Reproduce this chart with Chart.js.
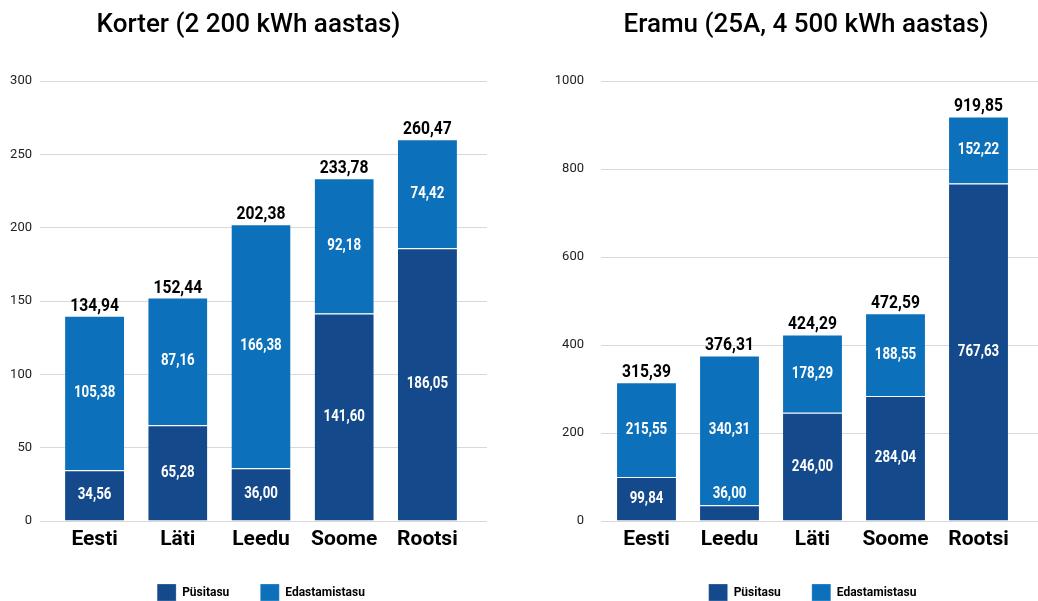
<!DOCTYPE html>
<html>
<head>
<meta charset="utf-8">
<script src="https://cdn.jsdelivr.net/npm/chart.js@4/dist/chart.umd.min.js"></script>
<style>
html, body { margin: 0; padding: 0; background: #fff; overflow: hidden; }
#wrap { position: relative; width: 1038px; height: 601px; overflow: hidden; }
.kast { position: absolute; top: 0; height: 620px; }
#k1 { left: 0; width: 495px; }
#k2 { left: 519px; width: 539px; }
</style>
</head>
<body>
<div id="wrap">
  <div class="kast" id="k1"><canvas id="korter"></canvas></div>
  <div class="kast" id="k2"><canvas id="eramu"></canvas></div>
</div>
<script>
// Korter (2 200 kWh aastas)
const korterRiigid = ['Eesti', 'Läti', 'Leedu', 'Soome', 'Rootsi'];
const korterPusitasu = [34.56, 65.28, 36.00, 141.60, 186.05];
const korterEdastamine = [105.38, 87.16, 166.38, 92.18, 74.42];
const korterKokku = [134.94, 152.44, 202.38, 233.78, 260.47];

// Eramu (25A, 4 500 kWh aastas)
const eramuRiigid = ['Eesti', 'Leedu', 'Läti', 'Soome', 'Rootsi'];
const eramuPusitasu = [99.84, 36.00, 246.00, 284.04, 767.63];
const eramuEdastamine = [215.55, 340.31, 178.29, 188.55, 152.22];
const eramuKokku = [315.39, 376.31, 424.29, 472.59, 919.85];

const TUME = '#144a8b';
const HELE = '#0c71ba';

const fmt = v => v.toFixed(2).replace('.', ',');

// kitsendatud kiri (Roboto Condensed asemel)
function kitsasTekst(ctx, tekst, x, y, skaala) {
  ctx.save();
  ctx.translate(x, y);
  ctx.scale(skaala, 1);
  ctx.fillText(tekst, 0, 0);
  ctx.restore();
}

// väärtused tulpade sees ja summad tulpade kohal
const sildid = {
  id: 'sildid',
  afterDatasetsDraw(chart, args, opts) {
    const ctx = chart.ctx;
    ctx.save();
    ctx.textAlign = 'center';
    ctx.textBaseline = 'middle';
    ctx.font = 'bold 16px Roboto';
    ctx.fillStyle = '#fff';
    chart.data.datasets.forEach((ds, i) => {
      chart.getDatasetMeta(i).data.forEach((bar, j) => {
        let y = (bar.y + bar.base) / 2;
        if (bar.base - bar.y < 22) y = bar.y - 11;
        kitsasTekst(ctx, fmt(ds.data[j]), bar.x, y, 0.83);
      });
    });
    const viimane = chart.getDatasetMeta(chart.data.datasets.length - 1);
    ctx.fillStyle = '#000';
    ctx.font = 'bold 18px Roboto';
    ctx.textBaseline = 'alphabetic';
    viimane.data.forEach((bar, j) => {
      kitsasTekst(ctx, fmt(opts.kokku[j]), bar.x, bar.y - 5, 0.87);
    });
    ctx.restore();
  }
};

function teeGraafik(id, pealkiri, riigid, pusi, edast, kokku, seaded) {
  return new Chart(document.getElementById(id), {
    type: 'bar',
    data: {
      labels: riigid,
      datasets: [
        { label: 'Püsitasu', data: pusi, backgroundColor: TUME, borderColor: '#fff', borderWidth: { top: 1 } },
        { label: 'Edastamistasu', data: edast, backgroundColor: HELE, borderColor: '#fff', borderWidth: { top: 1 } }
      ]
    },
    options: {
      responsive: true,
      maintainAspectRatio: false,
      animation: false,
      categoryPercentage: 1,
      barPercentage: 0.71,
      layout: { padding: { left: seaded.vasak, right: seaded.parem, top: 0, bottom: 9 } },
      scales: {
        x: {
          stacked: true,
          grid: { display: false, drawTicks: false },
          border: { display: false },
          ticks: { color: '#000', padding: 6, font: { family: 'Roboto', size: 21, weight: 'bold' } },
          afterFit: s => { s.height = 32; }
        },
        y: {
          stacked: true,
          min: 0,
          max: seaded.max,
          ticks: {
            stepSize: seaded.samm,
            color: '#222',
            padding: seaded.tPadding,
            font: { family: 'Roboto', size: 13 },
            callback: v => String(v)
          },
          grid: { color: '#d9d9d9', tickLength: seaded.tVasak },
          border: { display: false },
          afterFit: s => { s.width = seaded.laius; }
        },
        y2: {
          position: 'right',
          min: 0,
          max: seaded.max,
          ticks: { stepSize: seaded.samm, display: false },
          grid: { color: '#d9d9d9', drawOnChartArea: false, tickLength: seaded.tParem },
          border: { display: false },
          afterFit: s => { s.width = seaded.tParem; }
        }
      },
      plugins: {
        title: {
          display: true,
          text: pealkiri,
          color: '#000',
          font: { family: 'Roboto', size: 26, weight: '500' },
          padding: { top: 10, bottom: 40 }
        },
        legend: {
          position: 'bottom',
          fullSize: false,
          labels: {
            boxWidth: 19,
            boxHeight: 17,
            padding: 31,
            color: '#000',
            font: { family: 'Roboto', size: 12, weight: 'bold' }
          }
        },
        tooltip: { enabled: false },
        sildid: { kokku: kokku }
      }
    },
    plugins: [sildid]
  });
}

teeGraafik('korter', 'Korter (2 200 kWh aastas)', korterRiigid, korterPusitasu, korterEdastamine, korterKokku,
  { max: 300, samm: 50, vasak: 10, parem: 8, laius: 43, tVasak: 13, tPadding: 8, tParem: 18 });

teeGraafik('eramu', 'Eramu (25A, 4 500 kWh aastas)', eramuRiigid, eramuPusitasu, eramuEdastamine, eramuKokku,
  { max: 1000, samm: 200, vasak: 35, parem: 0, laius: 51, tVasak: 4, tPadding: 17, tParem: 38 });
</script>
</body>
</html>
